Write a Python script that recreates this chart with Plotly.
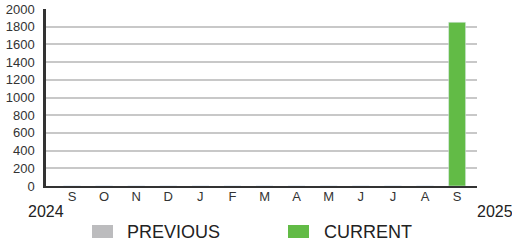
import plotly.graph_objects as go

months = ["S", "O", "N", "D", "J", "F", "M", "A", "M", "J", "J", "A", "S"]
previous = [0, 0, 0, 0, 0, 0, 0, 0, 0, 0, 0, 0, 0]
current = [0, 0, 0, 0, 0, 0, 0, 0, 0, 0, 0, 0, 1850]
series_names = ["PREVIOUS", "CURRENT"]
series_colors = ["#bcbcbe", "#62bb46"]
y_ticks = [0, 200, 400, 600, 800, 1000, 1200, 1400, 1600, 1800, 2000]
year_labels = ["2024", "2025"]

x = list(range(len(months)))
FONT = "Liberation Sans, Arial, sans-serif"

fig = go.Figure()
fig.add_trace(go.Bar(x=x, y=previous, name=series_names[0], marker_color=series_colors[0],
                     width=0.53, showlegend=False))
fig.add_trace(go.Bar(x=x, y=current, name=series_names[1], marker_color=series_colors[1],
                     width=0.53, showlegend=False))

L, R, T, B = 46, 35, 9, 58
W, H = 512, 244
pw, ph = W - L - R, H - T - B

def px2x(px):
    return (px - L) / pw

def py2y(py):
    return (H - B - py) / ph

fig.update_layout(
    width=W, height=H,
    margin=dict(l=L, r=R, t=T, b=B, pad=0, autoexpand=False),
    paper_bgcolor="white", plot_bgcolor="white",
    barmode="overlay",
    font=dict(family=FONT, color="#333333", size=13),
    xaxis=dict(range=[-0.81, 12.62], tickvals=x, ticktext=months, showgrid=False,
               showline=True, linecolor="#333333", linewidth=1.5, ticks="", zeroline=False,
               automargin=False, ticklabelstandoff=-2, tickfont=dict(size=13, color="#333333")),
    yaxis=dict(range=[0, 2000], tickvals=y_ticks, showgrid=True, gridcolor="#c8c8c8",
               gridwidth=1.5, showline=True, linecolor="#333333", linewidth=2.5,
               zeroline=False, ticks="", ticklabelstandoff=6, automargin=False,
               tickfont=dict(size=13, color="#333333")),
)

# year labels
fig.add_annotation(x=px2x(46), y=py2y(211.5), xref="paper", yref="paper", text=year_labels[0],
                   showarrow=False, font=dict(size=16, color="#222222"), xanchor="center", yanchor="middle")
fig.add_annotation(x=px2x(495), y=py2y(211), xref="paper", yref="paper", text=year_labels[1],
                   showarrow=False, font=dict(size=16, color="#222222"), xanchor="center", yanchor="middle")

# legend
legend_pos = [(92, 125), (288, 322)]
for (sx, tx), name, col in zip(legend_pos, series_names, series_colors):
    fig.add_shape(type="rect", xref="paper", yref="paper",
                  x0=px2x(sx), x1=px2x(sx + 21), y0=py2y(238), y1=py2y(225),
                  fillcolor=col, line=dict(width=0))
    fig.add_annotation(x=px2x(tx), y=py2y(232), xref="paper", yref="paper", text=name,
                       showarrow=False, font=dict(size=18, color="#222222"),
                       xanchor="left", yanchor="middle")

fig.write_html(
    "out.html",
    config={"displayModeBar": False},
    post_script="document.documentElement.style.margin='0';document.documentElement.style.padding='0';"
                "document.body.style.margin='0';document.body.style.padding='0';"
                "document.body.style.overflow='hidden';",
)
